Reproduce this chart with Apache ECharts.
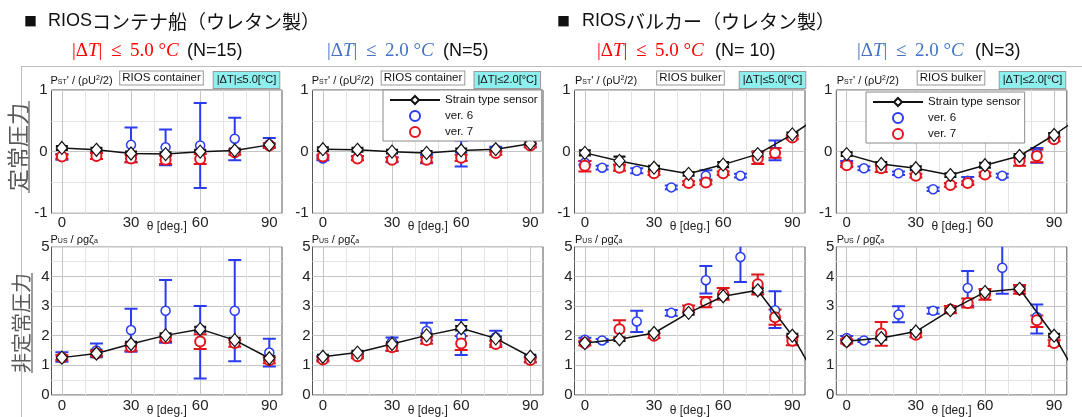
<!DOCTYPE html>
<html><head><meta charset="utf-8">
<script src="https://cdn.jsdelivr.net/npm/echarts@6/dist/echarts.min.js"></script>
<style>html,body{margin:0;padding:0;background:#fff}#c{width:1082px;height:417px}</style>
</head><body><div id="c"></div>
<script>
// ---------------- DATA ----------------
const xContainer = [0, 15, 30, 45, 60, 75, 90];
const xBulkStrain = [0, 15, 30, 45, 60, 75, 90, 100];
const xBulkV6 = [0, 7.5, 22.5, 37.5, 52.5, 67.5, 82.5];
const xBulkV7 = [0, 15, 30, 45, 52.5, 60, 75, 82.5, 90];

const xTickLabels = [0, 30, 60, 90];
const xGridLines = [0, 10, 20, 30, 40, 50, 60, 70, 80, 90];
const yTopLabels = [-1, 0, 1];
const yTopLines = [-1, -0.5, 0, 0.5, 1];
const yBotLabels = [0, 1, 2, 3, 4, 5];
const yBotLines = [0, 0.5, 1, 1.5, 2, 2.5, 3, 3.5, 4, 4.5, 5];

// Steady pressure, container, |dT|<=5 (N=15)
const c5StStrainY = [0.06, 0.03, -0.03, -0.04, 0.00, 0.02, 0.11];
const c5StStrainErr = [0.03, 0.03, 0.03, 0.03, 0.03, 0.03, 0.03];
const c5StV6Y = [-0.08, -0.07, 0.11, 0.07, 0.10, 0.21, 0.12];
const c5StV6Lo = [-0.13, -0.12, -0.17, -0.22, -0.59, -0.14, 0.06];
const c5StV6Hi = [-0.04, -0.02, 0.39, 0.36, 0.79, 0.55, 0.22];
const c5StV7Y = [-0.08, -0.07, -0.11, -0.13, -0.12, -0.01, 0.10];
const c5StV7Lo = [-0.11, -0.12, -0.17, -0.20, -0.20, -0.05, 0.07];
const c5StV7Hi = [-0.05, -0.02, -0.05, -0.06, -0.04, 0.03, 0.13];

// Steady pressure, container, |dT|<=2 (N=5)
const c2StStrainY = [0.04, 0.03, 0.00, -0.02, 0.02, 0.04, 0.13];
const c2StStrainErr = [0.03, 0.03, 0.03, 0.03, 0.03, 0.03, 0.03];
const c2StV6Y = [-0.11, -0.10, -0.13, -0.12, -0.02, 0.04, 0.10];
const c2StV6Lo = [-0.14, -0.13, -0.17, -0.19, -0.24, 0.00, 0.07];
const c2StV6Hi = [-0.08, -0.07, -0.09, -0.05, 0.18, 0.08, 0.13];
const c2StV7Y = [-0.08, -0.11, -0.13, -0.13, -0.10, -0.02, 0.10];
const c2StV7Lo = [-0.11, -0.14, -0.16, -0.17, -0.15, -0.05, 0.07];
const c2StV7Hi = [-0.05, -0.08, -0.10, -0.09, -0.05, 0.01, 0.13];

// Steady pressure, bulker, |dT|<=5 (N=10)
const b5StStrainY = [-0.02, -0.15, -0.26, -0.36, -0.21, -0.04, 0.28, 0.53];
const b5StStrainErr = [0.04, 0.07, 0.03, 0.03, 0.04, 0.04, 0.03];
const b5StV6Y = [-0.18, -0.26, -0.31, -0.58, -0.39, -0.39, 0.00];
const b5StV6Lo = [-0.21, -0.29, -0.35, -0.61, -0.45, -0.42, -0.14];
const b5StV6Hi = [-0.15, -0.23, -0.27, -0.55, -0.30, -0.36, 0.18];
const b5StV7Y = [-0.23, -0.26, -0.35, -0.51, -0.50, -0.35, -0.11, -0.02, 0.23];
const b5StV7Lo = [-0.32, -0.31, -0.38, -0.54, -0.53, -0.38, -0.20, -0.10, 0.20];
const b5StV7Hi = [-0.15, -0.21, -0.32, -0.48, -0.47, -0.32, 0.00, 0.06, 0.26];

// Steady pressure, bulker, |dT|<=2 (N=3)
const b2StStrainY = [-0.04, -0.20, -0.27, -0.38, -0.22, -0.07, 0.27, 0.53];
const b2StStrainErr = [0.03, 0.03, 0.03, 0.03, 0.04, 0.03, 0.03];
const b2StV6Y = [-0.19, -0.27, -0.35, -0.61, -0.47, -0.39, -0.03];
const b2StV6Lo = [-0.23, -0.30, -0.38, -0.64, -0.53, -0.42, -0.18];
const b2StV6Hi = [-0.15, -0.24, -0.32, -0.58, -0.41, -0.36, 0.06];
const b2StV7Y = [-0.22, -0.27, -0.39, -0.54, -0.51, -0.37, -0.15, -0.07, 0.20];
const b2StV7Lo = [-0.25, -0.33, -0.42, -0.57, -0.54, -0.40, -0.23, -0.17, 0.17];
const b2StV7Hi = [-0.19, -0.21, -0.36, -0.51, -0.48, -0.34, -0.07, 0.03, 0.23];

// Unsteady pressure, container, |dT|<=5
const c5UsStrainY = [1.26, 1.40, 1.72, 2.01, 2.22, 1.85, 1.24];
const c5UsStrainErr = [0.07, 0.12, 0.07, 0.07, 0.08, 0.08, 0.07];
const c5UsV6Y = [1.26, 1.50, 2.19, 2.84, 2.22, 2.84, 1.43];
const c5UsV6Lo = [1.12, 1.29, 1.46, 1.76, 0.56, 1.14, 0.96];
const c5UsV6Hi = [1.44, 1.74, 2.91, 3.88, 3.00, 4.55, 1.90];
const c5UsV7Y = [1.26, 1.40, 1.62, 1.91, 1.80, 1.75, 1.17];
const c5UsV7Lo = [1.18, 1.32, 1.50, 1.81, 1.55, 1.63, 1.07];
const c5UsV7Hi = [1.34, 1.48, 1.74, 2.01, 2.05, 1.87, 1.27];

// Unsteady pressure, container, |dT|<=2
const c2UsStrainY = [1.29, 1.43, 1.72, 2.01, 2.25, 1.91, 1.29];
const c2UsStrainErr = [0.06, 0.06, 0.06, 0.06, 0.07, 0.06, 0.06];
const c2UsV6Y = [1.24, 1.38, 1.80, 2.16, 1.97, 1.95, 1.20];
const c2UsV6Lo = [1.17, 1.31, 1.49, 1.85, 1.35, 1.69, 1.10];
const c2UsV6Hi = [1.31, 1.45, 1.94, 2.44, 2.53, 2.17, 1.30];
const c2UsV7Y = [1.20, 1.31, 1.61, 1.85, 1.74, 1.72, 1.18];
const c2UsV7Lo = [1.13, 1.24, 1.49, 1.73, 1.52, 1.62, 1.10];
const c2UsV7Hi = [1.27, 1.38, 1.73, 1.97, 1.99, 1.82, 1.26];

// Unsteady pressure, bulker, |dT|<=5
const b5UsStrainY = [1.75, 1.88, 2.09, 2.77, 3.33, 3.53, 2.00, 0.65];
const b5UsStrainErr = [0.06, 0.06, 0.05, 0.06, 0.07, 0.08, 0.06];
const b5UsV6Y = [1.86, 1.84, 2.48, 2.77, 3.87, 4.65, 2.86];
const b5UsV6Lo = [1.79, 1.79, 2.12, 2.67, 3.42, 3.81, 2.26];
const b5UsV6Hi = [1.93, 1.89, 2.84, 2.87, 4.35, 5.40, 3.50];
const b5UsV7Y = [1.75, 2.22, 2.00, 2.90, 3.13, 3.41, 3.73, 2.62, 1.83];
const b5UsV7Lo = [1.67, 1.92, 1.92, 2.78, 2.96, 3.21, 3.39, 2.37, 1.68];
const b5UsV7Hi = [1.83, 2.52, 2.08, 3.02, 3.30, 3.61, 4.06, 2.88, 1.98];

// Unsteady pressure, bulker, |dT|<=2
const b2UsStrainY = [1.81, 1.92, 2.14, 2.86, 3.47, 3.58, 2.00, 0.65];
const b2UsStrainErr = [0.05, 0.05, 0.05, 0.06, 0.07, 0.06, 0.06];
const b2UsV6Y = [1.92, 1.84, 2.71, 2.84, 3.61, 4.29, 2.63];
const b2UsV6Lo = [1.85, 1.79, 2.45, 2.74, 3.01, 3.41, 2.07];
const b2UsV6Hi = [1.99, 1.89, 2.99, 2.94, 4.18, 5.30, 3.05];
const b2UsV7Y = [1.81, 2.07, 2.03, 2.88, 3.10, 3.39, 3.56, 2.52, 1.75];
const b2UsV7Lo = [1.74, 1.66, 1.95, 2.76, 2.95, 3.21, 3.41, 2.29, 1.65];
const b2UsV7Hi = [1.88, 2.46, 2.11, 3.00, 3.25, 3.57, 3.71, 2.68, 1.85];

const seriesNames = ['Strain type sensor', 'ver. 6', 'ver. 7'];

// ---------------- LAYOUT / STYLE ----------------
const FONT = 'Liberation Sans, Arial, sans-serif';
const CJK = 'Noto Sans CJK JP, sans-serif';
const SERIF = 'Liberation Serif, DejaVu Serif, serif';
const BLUE = '#2a3cf0', RED = '#e3141b', BLACK = '#111';
const X_MIN = -4.5, X_MAX = 95.5, GW = 230.5;
const colLeft = [51.5, 312.5, 574.5, 836.3];
const TOP = {top: 90, height: 123.3, min: -1, max: 1, labels: yTopLabels, lines: yTopLines, xMargin: 2, yMargin: 4, nameGap: 7};
const BOT = {top: 246.7, height: 148.3, min: 0, max: 5, labels: yBotLabels, lines: yBotLines, xMargin: 3, yMargin: 2, nameGap: 10};

const panels = [
  {col: 0, row: TOP, sx: xContainer, sy: c5StStrainY, se: c5StStrainErr, x6: xContainer, y6: c5StV6Y, l6: c5StV6Lo, h6: c5StV6Hi, x7: xContainer, y7: c5StV7Y, l7: c5StV7Lo, h7: c5StV7Hi},
  {col: 1, row: TOP, sx: xContainer, sy: c2StStrainY, se: c2StStrainErr, x6: xContainer, y6: c2StV6Y, l6: c2StV6Lo, h6: c2StV6Hi, x7: xContainer, y7: c2StV7Y, l7: c2StV7Lo, h7: c2StV7Hi},
  {col: 2, row: TOP, sx: xBulkStrain, sy: b5StStrainY, se: b5StStrainErr, x6: xBulkV6, y6: b5StV6Y, l6: b5StV6Lo, h6: b5StV6Hi, x7: xBulkV7, y7: b5StV7Y, l7: b5StV7Lo, h7: b5StV7Hi},
  {col: 3, row: TOP, sx: xBulkStrain, sy: b2StStrainY, se: b2StStrainErr, x6: xBulkV6, y6: b2StV6Y, l6: b2StV6Lo, h6: b2StV6Hi, x7: xBulkV7, y7: b2StV7Y, l7: b2StV7Lo, h7: b2StV7Hi},
  {col: 0, row: BOT, sx: xContainer, sy: c5UsStrainY, se: c5UsStrainErr, x6: xContainer, y6: c5UsV6Y, l6: c5UsV6Lo, h6: c5UsV6Hi, x7: xContainer, y7: c5UsV7Y, l7: c5UsV7Lo, h7: c5UsV7Hi},
  {col: 1, row: BOT, sx: xContainer, sy: c2UsStrainY, se: c2UsStrainErr, x6: xContainer, y6: c2UsV6Y, l6: c2UsV6Lo, h6: c2UsV6Hi, x7: xContainer, y7: c2UsV7Y, l7: c2UsV7Lo, h7: c2UsV7Hi},
  {col: 2, row: BOT, sx: xBulkStrain, sy: b5UsStrainY, se: b5UsStrainErr, x6: xBulkV6, y6: b5UsV6Y, l6: b5UsV6Lo, h6: b5UsV6Hi, x7: xBulkV7, y7: b5UsV7Y, l7: b5UsV7Lo, h7: b5UsV7Hi},
  {col: 3, row: BOT, sx: xBulkStrain, sy: b2UsStrainY, se: b2UsStrainErr, x6: xBulkV6, y6: b2UsV6Y, l6: b2UsV6Lo, h6: b2UsV6Hi, x7: xBulkV7, y7: b2UsV7Y, l7: b2UsV7Lo, h7: b2UsV7Hi}
];

function errSeries(name, gi, xs, lo, hi, color, half, lw) {
  return {
    type: 'custom', name: name, xAxisIndex: gi, yAxisIndex: gi, clip: true, silent: true,
    data: lo.map((v, k) => [xs[k], v, hi[k]]),
    encode: {x: 0, y: [1, 2]},
    renderItem: function (params, api) {
      const x = api.value(0);
      const a = api.coord([x, api.value(1)]);
      const b = api.coord([x, api.value(2)]);
      const st = {stroke: color, lineWidth: lw};
      return {type: 'group', children: [
        {type: 'line', shape: {x1: a[0], y1: a[1], x2: b[0], y2: b[1]}, style: st},
        {type: 'line', shape: {x1: a[0] - half, y1: a[1], x2: a[0] + half, y2: a[1]}, style: st},
        {type: 'line', shape: {x1: b[0] - half, y1: b[1], x2: b[0] + half, y2: b[1]}, style: st}
      ]};
    }
  };
}

const grids = [], xAxes = [], yAxes = [], series = [];
panels.forEach((p, i) => {
  const r = p.row;
  grids.push({left: colLeft[p.col], top: r.top, width: GW, height: r.height, show: true,
    borderColor: '#555', borderWidth: 1, backgroundColor: '#fff', containLabel: false,
    outerBoundsMode: 'none'});
  xAxes.push({type: 'value', gridIndex: i, min: X_MIN, max: X_MAX,
    name: 'θ [deg.]', nameLocation: 'middle', nameGap: r.nameGap, nameMoveOverlap: false,
    nameTextStyle: {fontSize: 12, color: '#222', fontFamily: FONT},
    axisLine: {show: false},
    axisTick: {show: false, customValues: xGridLines},
    axisLabel: {customValues: xTickLabels, fontSize: 15, color: '#222', fontFamily: FONT, margin: r.xMargin},
    splitLine: {show: true, lineStyle: {color: ['#c4c4c4', '#e4e4e4', '#e4e4e4'], width: 1}}
  });
  yAxes.push({type: 'value', gridIndex: i, min: r.min, max: r.max,
    axisLine: {show: false},
    axisTick: {show: false, customValues: r.lines},
    axisLabel: {customValues: r.labels, fontSize: 15, color: '#222', fontFamily: FONT, margin: r.yMargin},
    splitLine: {show: true, lineStyle: {color: ['#c4c4c4', '#e4e4e4'], width: 1}}
  });
  const sLo = p.se.map((e, k) => p.sy[k] - e);
  const sHi = p.se.map((e, k) => p.sy[k] + e);
  series.push(errSeries('strain err', i, p.sx, sLo, sHi, BLACK, 6, 2.2));
  series.push({type: 'line', name: seriesNames[0], xAxisIndex: i, yAxisIndex: i, clip: true,
    data: p.sx.map((x, k) => [x, p.sy[k]]),
    symbol: 'diamond', symbolSize: [11, 13], showSymbol: true,
    itemStyle: {color: '#fff', borderColor: BLACK, borderWidth: 1.2},
    lineStyle: {color: BLACK, width: 1.5}, silent: true});
  series.push(errSeries('v6 err', i, p.x6, p.l6, p.h6, BLUE, 6.5, 2));
  series.push({type: 'scatter', name: seriesNames[1], xAxisIndex: i, yAxisIndex: i, clip: true,
    data: p.x6.map((x, k) => [x, p.y6[k]]), symbol: 'circle', symbolSize: 9,
    itemStyle: {color: '#fff', borderColor: BLUE, borderWidth: 1.5, opacity: 1}, silent: true});
  series.push(errSeries('v7 err', i, p.x7, p.l7, p.h7, RED, 6.5, 2));
  series.push({type: 'scatter', name: seriesNames[2], xAxisIndex: i, yAxisIndex: i, clip: true,
    data: p.x7.map((x, k) => [x, p.y7[k]]), symbol: 'circle', symbolSize: 10,
    itemStyle: {color: '#fff', borderColor: RED, borderWidth: 2, opacity: 1}, silent: true});
});

function legendAt(left, top) {
  return {left: left, top: top, orient: 'vertical', data: seriesNames, selectedMode: false,
    backgroundColor: '#fff', borderColor: '#8a8a8a', borderWidth: 1,
    padding: [4, 4, 3, 6], itemGap: 4, itemWidth: 50, itemHeight: 10,
    textStyle: {fontSize: 11.5, fontFamily: FONT, color: '#111'}};
}

// ---------------- TEXT ----------------
function T(x, y, text, style, extra) {
  return Object.assign({type: 'text', x: x, y: y, silent: true, z: 100,
    style: Object.assign({text: text, align: 'left', verticalAlign: 'middle', fill: '#111',
      fontSize: 12, fontFamily: FONT}, style)}, extra || {});
}
const pstRich = {
  p: {fontSize: 11, fontFamily: FONT, fill: '#111'},
  s: {fontSize: 7, fontFamily: FONT, fill: '#111', verticalAlign: 'bottom'},
  u: {fontSize: 7, fontFamily: FONT, fill: '#111', verticalAlign: 'top'}
};
const headRich = {
  a: {fontSize: 18, fontFamily: FONT, fill: '#111'},
  b: {fontSize: 19, fontFamily: CJK, fill: '#111'}
};
function mathRich(color) {
  return {
    m: {fontSize: 19, fontFamily: SERIF, fill: color},
    i: {fontSize: 19, fontFamily: SERIF, fontStyle: 'italic', fill: color}
  };
}
const mathText = (v) => '{m||Δ}{i|T}{m|| \u2009≤\u2009 ' + v + ' °}{i|C}';

const pstText = '{p|P}{s|ST}{p|\' / (ρU}{u|2}{p|/2)}';
const pusText = '{p|P}{s|US}{p| / ρgζ}{s|a}';
const boxStyle = {fontSize: 11.5, fontFamily: FONT, fill: '#111', align: 'center',
  backgroundColor: '#fff', borderColor: '#999', borderWidth: 1, padding: [1, 2, 0, 2]};
const cyanStyle = {fontSize: 11, fontFamily: FONT, fill: '#111', align: 'center',
  backgroundColor: '#8ef0ee', borderColor: '#9a9a9a', borderWidth: 1, padding: [3, 3, 2, 3]};

const panelLeftText = [50.5, 311.7, 575, 836.7];
const shipBoxX = [161.5, 423, 690.5, 951];
const shipNames = ['RIOS container', 'RIOS container', 'RIOS bulker', 'RIOS bulker'];
const cyanX = [246.5, 507.3, 772.5, 1032.5];
const cyanText = ['|ΔT|≤5.0[°C]', '|ΔT|≤2.0[°C]', '|ΔT|≤5.0[°C]', '|ΔT|≤2.0[°C]'];

const graphic = [
  {type: 'line', silent: true, shape: {x1: 21, y1: 66.5, x2: 1082, y2: 66.5}, style: {stroke: '#bdbdbd', lineWidth: 1}},
  {type: 'line', silent: true, shape: {x1: 21.5, y1: 66, x2: 21.5, y2: 417}, style: {stroke: '#bdbdbd', lineWidth: 1}},
  T(24, 21.5, '■', {fontSize: 13, fontFamily: CJK}),
  T(48, 21.5, '{a|RIOS}{b|コンテナ船（ウレタン製）}', {rich: headRich}),
  T(557, 21.5, '■', {fontSize: 13, fontFamily: CJK}),
  T(582, 21.5, '{a|RIOS}{b|バルカー（ウレタン製）}', {rich: headRich}),
  T(72, 51, mathText('5.0'), {rich: mathRich('#ff0000')}),
  T(187, 51, '(N=15)', {fontSize: 18}),
  T(327, 51, mathText('2.0'), {rich: mathRich('#4472c4')}),
  T(443, 51, '(N=5)', {fontSize: 18}),
  T(597, 51, mathText('5.0'), {rich: mathRich('#ff0000')}),
  T(715, 51, '(N= 10)', {fontSize: 18}),
  T(857, 51, mathText('2.0'), {rich: mathRich('#4472c4')}),
  T(975, 51, '(N=3)', {fontSize: 18}),
  T(17.5, 147, '定常圧力', {fontSize: 22, fontFamily: CJK, fill: '#595959', align: 'center'}, {rotation: Math.PI / 2}),
  {type: 'line', silent: true, shape: {x1: 29, y1: 101, x2: 29, y2: 193}, style: {stroke: '#595959', lineWidth: 1.2}},
  T(21, 323, '非定常圧力', {fontSize: 20, fontFamily: CJK, fill: '#595959', align: 'center'}, {rotation: Math.PI / 2}),
  {type: 'line', silent: true, shape: {x1: 32, y1: 273, x2: 32, y2: 373}, style: {stroke: '#595959', lineWidth: 1.2}}
];
for (let c = 0; c < 4; c++) {
  graphic.push(T(panelLeftText[c], 80.5, pstText, {rich: pstRich}));
  graphic.push(T(shipBoxX[c], 78, shipNames[c], boxStyle));
  graphic.push(T(cyanX[c], 80, cyanText[c], cyanStyle));
  graphic.push(T(panelLeftText[c], 239.5, pusText, {rich: pstRich}));
}

const chart = echarts.init(document.getElementById('c'), null, {renderer: 'canvas'});
chart.setOption({
  animation: false,
  backgroundColor: '#fff',
  textStyle: {fontFamily: FONT},
  grid: grids, xAxis: xAxes, yAxis: yAxes, series: series,
  legend: [legendAt(383, 90), legendAt(866, 92)],
  graphic: graphic
});
</script></body></html>
